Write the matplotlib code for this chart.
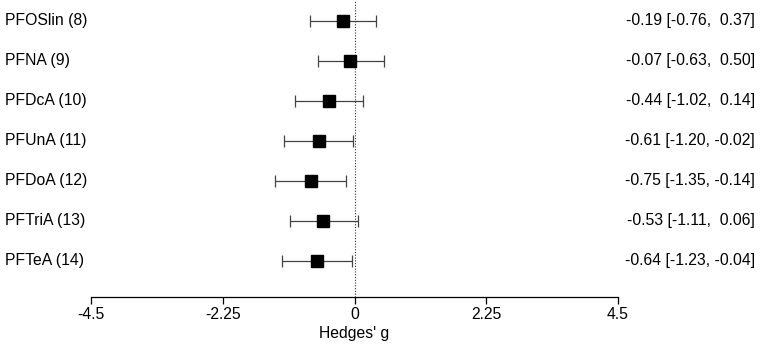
import matplotlib.pyplot as plt
import matplotlib.transforms as mtransforms
import numpy as np

plt.rcParams["font.family"] = ["Liberation Sans", "DejaVu Sans"]

labels = ["PFOSlin (8)", "PFNA (9)", "PFDcA (10)", "PFUnA (11)",
          "PFDoA (12)", "PFTriA (13)", "PFTeA (14)"]
est = [-0.19, -0.07, -0.44, -0.61, -0.75, -0.53, -0.64]
lower = [-0.76, -0.63, -1.02, -1.20, -1.35, -1.11, -1.23]
upper = [0.37, 0.50, 0.14, -0.02, -0.14, 0.06, -0.04]
xticks = [-4.5, -2.25, 0, 2.25, 4.5]
xticklabels = ["-4.5", "-2.25", "0", "2.25", "4.5"]

W, H = 760, 349
FS = 11.3
fig = plt.figure(figsize=(W / 100, H / 100), dpi=100)
# axes spans the plotting region: x from -4.5 to 4.5, bottom spine at the axis line
left_px, right_px, axis_px = 91, 618, 297
ax = fig.add_axes([left_px / W, (H - axis_px) / H,
                   (right_px - left_px) / W, axis_px / H])
ax.set_xlim(-4.5, 4.5)
ax.set_ylim(1 - (axis_px - 261) / 40, 7.525)

ypos = np.arange(len(labels), 0, -1)
est_a, lo_a, hi_a = np.array(est), np.array(lower), np.array(upper)

# zero reference line
ax.axvline(0, color="#333333", linestyle=(0, (1, 1.5)), linewidth=0.8)

# confidence intervals with end caps
ax.errorbar(est_a, ypos, xerr=[est_a - lo_a, hi_a - est_a],
            fmt="none", ecolor="#444444", elinewidth=0.9, capsize=4, capthick=0.9)
ax.plot(est_a, ypos, linestyle="none", marker="s", markersize=8.3,
        color="black", zorder=3)

# labels on the left, estimate [CI] on the right (figure x, data y)
trans = mtransforms.blended_transform_factory(fig.transFigure, ax.transData)
for y, lab, e, lo, hi in zip(ypos, labels, est, lower, upper):
    ax.text(5 / W, y, lab, transform=trans, fontsize=FS,
            ha="left", va="center", clip_on=False)
    txt = f"{e:.2f} [{lo:5.2f}, {hi:5.2f}]"
    ax.text(755 / W, y, txt, transform=trans, fontsize=FS,
            ha="right", va="center", clip_on=False)

ax.spines[["top", "right", "left"]].set_visible(False)
ax.spines["bottom"].set_linewidth(0.9)
ax.set_yticks([])
ax.set_xticks(xticks)
ax.set_xticklabels(xticklabels, fontsize=FS)
ax.tick_params(axis="x", length=5, width=0.9, pad=2)
ax.set_xlabel("Hedges' g", fontsize=FS, labelpad=3)

fig.savefig("out.png", dpi=100)
